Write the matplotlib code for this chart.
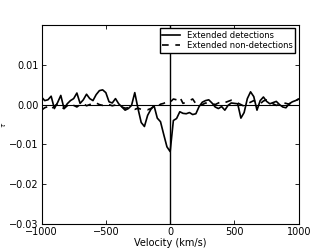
import numpy as np
import matplotlib
matplotlib.use('Agg')
import matplotlib.pyplot as plt

# velocity grid (km/s)
velocity = np.arange(-1000, 1001, 25)

# optical depth, extended detections
tau_det = [
    0.0019, 0.0010, 0.0012, 0.0021, -0.0010, 0.0005, 0.0023, -0.0010, 0.0002,
    0.0010, 0.0015, 0.0029, 0.0003, 0.0012, 0.0026, 0.0015, 0.0010, 0.0025,
    0.0035, 0.0037, 0.0030, 0.0007, 0.0004, 0.0015, 0.0002, -0.0006, -0.0014,
    -0.0010, -0.0002, 0.0030, -0.0010, -0.0045, -0.0055, -0.0027, -0.0012,
    -0.0003, -0.0034, -0.0043, -0.0075, -0.0106, -0.0118, -0.0040, -0.0035,
    -0.0018, -0.0022, -0.0023, -0.0020, -0.0025, -0.0023, -0.0005, 0.0006,
    0.0010, 0.0012, 0.0004, -0.0006, -0.0010, -0.0005, -0.0014, -0.0002,
    0.0004, 0.0003, 0.0002, -0.0034, -0.0020, 0.0015, 0.0032, 0.0020, -0.0014,
    0.0010, 0.0019, 0.0008, 0.0002, 0.0005, 0.0008, 0.0000, -0.0006, -0.0008,
    0.0002, 0.0007, 0.0010, 0.0014,
]

# optical depth, extended non-detections
tau_nondet = [
    -0.0014, -0.0008, -0.0005, -0.0012, -0.0004, 0.0002, -0.0006, -0.0010,
    -0.0003, 0.0003, -0.0002, -0.0006, 0.0000, 0.0003, -0.0003, 0.0000, 0.0005,
    0.0004, 0.0000, -0.0002, 0.0003, 0.0000, -0.0003, -0.0001, -0.0004, -0.0006,
    -0.0009, -0.0008, -0.0010, -0.0012, -0.0009, -0.0012, -0.0011, -0.0013,
    -0.0010, -0.0004, -0.0006, 0.0001, 0.0003, 0.0008, 0.0006, 0.0014, 0.0012,
    0.0019, 0.0003, 0.0006, 0.0010, 0.0014, 0.0002, -0.0003, 0.0000, 0.0004,
    0.0002, 0.0003, 0.0000, 0.0004, 0.0008, 0.0005, 0.0008, 0.0011, 0.0009,
    0.0004, 0.0000, -0.0004, 0.0002, 0.0006, 0.0010, 0.0004, 0.0002, 0.0009,
    0.0012, 0.0007, 0.0002, -0.0002, 0.0000, 0.0005, 0.0003, 0.0001, 0.0006,
    0.0010, 0.0014,
]

xticks = [-1000, -500, 0, 500, 1000]
yticks = [-0.03, -0.02, -0.01, 0.00, 0.01]

plt.rcParams['font.size'] = 7
fig = plt.figure(figsize=(3.32, 2.49), dpi=100)
fig.subplots_adjust(left=0.125, right=0.9, bottom=0.1, top=0.9)
ax = fig.add_subplot(111)

ax.plot(velocity, tau_det, color='black', lw=1.2, label='Extended detections')
ax.plot(velocity, tau_nondet, color='black', lw=1.2, ls=(0, (4, 4)),
        label='Extended non-detections')
ax.axhline(0, color='black', lw=0.8)
ax.axvline(0, color='black', lw=1.0)

ax.set_xlim(-1000, 1000)
ax.set_ylim(-0.03, 0.02)
ax.set_xticks(xticks)
ax.set_yticks(yticks)
ax.xaxis.set_major_formatter(matplotlib.ticker.FuncFormatter(
    lambda v, p: ('%d' % v).replace('-', '\u2212')))
ax.yaxis.set_major_formatter(matplotlib.ticker.FuncFormatter(
    lambda v, p: ('%.2f' % v).replace('-', '\u2212')))
ax.tick_params(direction='in', top=True, right=True, length=3, width=0.6, pad=2)
for s in ax.spines.values():
    s.set_linewidth(0.8)

ax.set_xlabel('Velocity (km/s)', labelpad=1)
ax.set_ylabel(r'$\tau$', fontsize=5, labelpad=1)

ax.legend(loc='upper right', fontsize=6, fancybox=False, edgecolor='black',
          framealpha=1, handlelength=2.2, borderaxespad=0.4, borderpad=0.3,
          labelspacing=0.2)

fig.savefig('out.png', dpi=100)
